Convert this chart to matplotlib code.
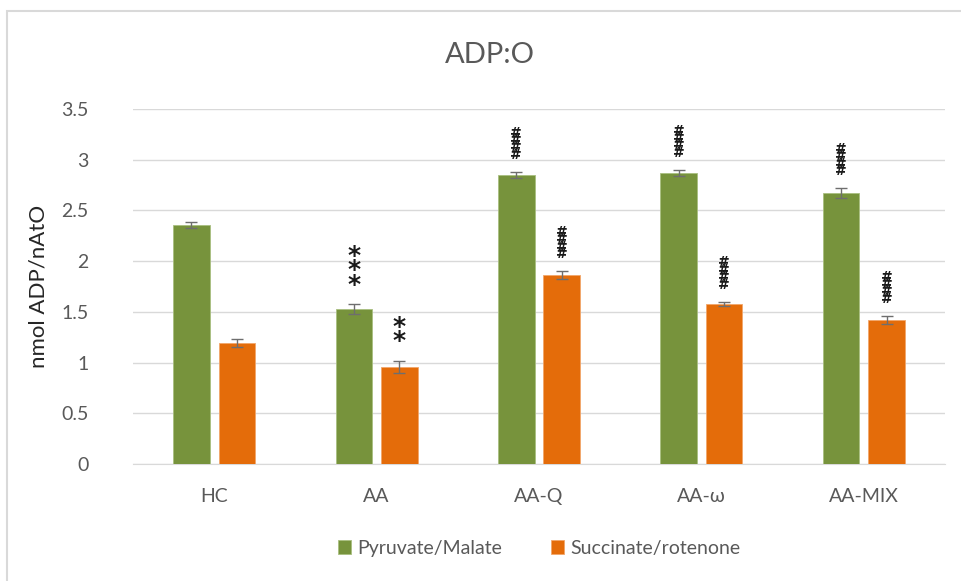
import numpy as np
import matplotlib.pyplot as plt
from matplotlib.patches import Rectangle

groups = ["HC", "AA", "AA-Q", "AA-ω", "AA-MIX"]
pyruvate = [2.36, 1.53, 2.85, 2.87, 2.67]
pyruvate_err = [0.03, 0.05, 0.03, 0.03, 0.05]
succinate = [1.19, 0.96, 1.86, 1.58, 1.42]
succinate_err = [0.04, 0.06, 0.04, 0.02, 0.04]
pyruvate_marks = ["", "***", "####", "####", "####"]
succinate_marks = ["", "**", "####", "####", "####"]

green = "#77933C"
orange = "#E46C0A"
grey = "#595959"

plt.rcParams["font.family"] = ["Lato", "DejaVu Sans"]

fig = plt.figure(figsize=(9.62, 5.81), dpi=100)
ax = fig.add_axes([133 / 962, 1 - 464 / 581, 812 / 962, 355 / 581])

# chart frame
fig.patches.append(Rectangle((7 / 962, -0.1), 1.2, 1 - 11 / 581 + 0.1,
                             transform=fig.transFigure, fill=False,
                             edgecolor="#d9d9d9", linewidth=1.5))

x = np.arange(len(groups))
w = 0.225
off = 0.14
ax.bar(x - off, pyruvate, w, color=green, edgecolor="#a9bf80", linewidth=0.6,
       label="Pyruvate/Malate", zorder=3)
ax.bar(x + off, succinate, w, color=orange, edgecolor="#f2a66a", linewidth=0.6,
       label="Succinate/rotenone", zorder=3)
ax.errorbar(x - off, pyruvate, yerr=pyruvate_err, fmt="none", ecolor="#6e6e6e",
            elinewidth=1, capsize=4, capthick=1, zorder=4)
ax.errorbar(x + off, succinate, yerr=succinate_err, fmt="none", ecolor="#6e6e6e",
            elinewidth=1, capsize=4, capthick=1, zorder=4)


def draw_marks(xs, vals, errs, marks):
    for xi, v, e, m in zip(xs, vals, errs, marks):
        if not m:
            continue
        if m.startswith("*"):
            ax.text(xi, v + e + 0.07, "\n".join(m), ha="center", va="bottom",
                    fontsize=18, linespacing=0.5, color="#1a1a1a",
                    family="DejaVu Sans", fontweight="bold")
        else:
            ax.text(xi, v + e + 0.1, "\n".join(m), ha="center", va="bottom",
                    fontsize=10, linespacing=0.4, color="#1a1a1a",
                    family="DejaVu Sans", fontweight="bold")


draw_marks(x - off, pyruvate, pyruvate_err, pyruvate_marks)
draw_marks(x + off, succinate, succinate_err, succinate_marks)

ax.set_xlim(-0.5, len(groups) - 0.5)
ax.set_ylim(0, 3.5)
ax.set_yticks(np.arange(0, 3.51, 0.5))
ax.set_yticklabels(["0", "0.5", "1", "1.5", "2", "2.5", "3", "3.5"])
ax.set_xticks(x)
ax.set_xticklabels(groups)
ax.tick_params(axis="both", length=0, labelsize=14, labelcolor=grey)
ax.tick_params(axis="x", pad=17)
ax.tick_params(axis="y", pad=32)
ax.grid(axis="y", color="#d9d9d9", linewidth=1, zorder=0)
for s in ["top", "right", "left"]:
    ax.spines[s].set_visible(False)
ax.spines["bottom"].set_color("#d9d9d9")

ax.set_ylabel("nmol ADP/nAtO", fontsize=16, color="#262626", labelpad=9)
fig.text(490 / 962, 1 - 55 / 581, "ADP:O", ha="center", va="center",
         fontsize=21, color=grey)

ax.legend(loc="upper center", bbox_to_anchor=(0.5, -0.165), ncol=2,
          frameon=False, fontsize=14, handlelength=0.7, handleheight=0.7,
          handletextpad=0.3, columnspacing=2.5, labelcolor=grey)

fig.savefig("out.png", dpi=100)
